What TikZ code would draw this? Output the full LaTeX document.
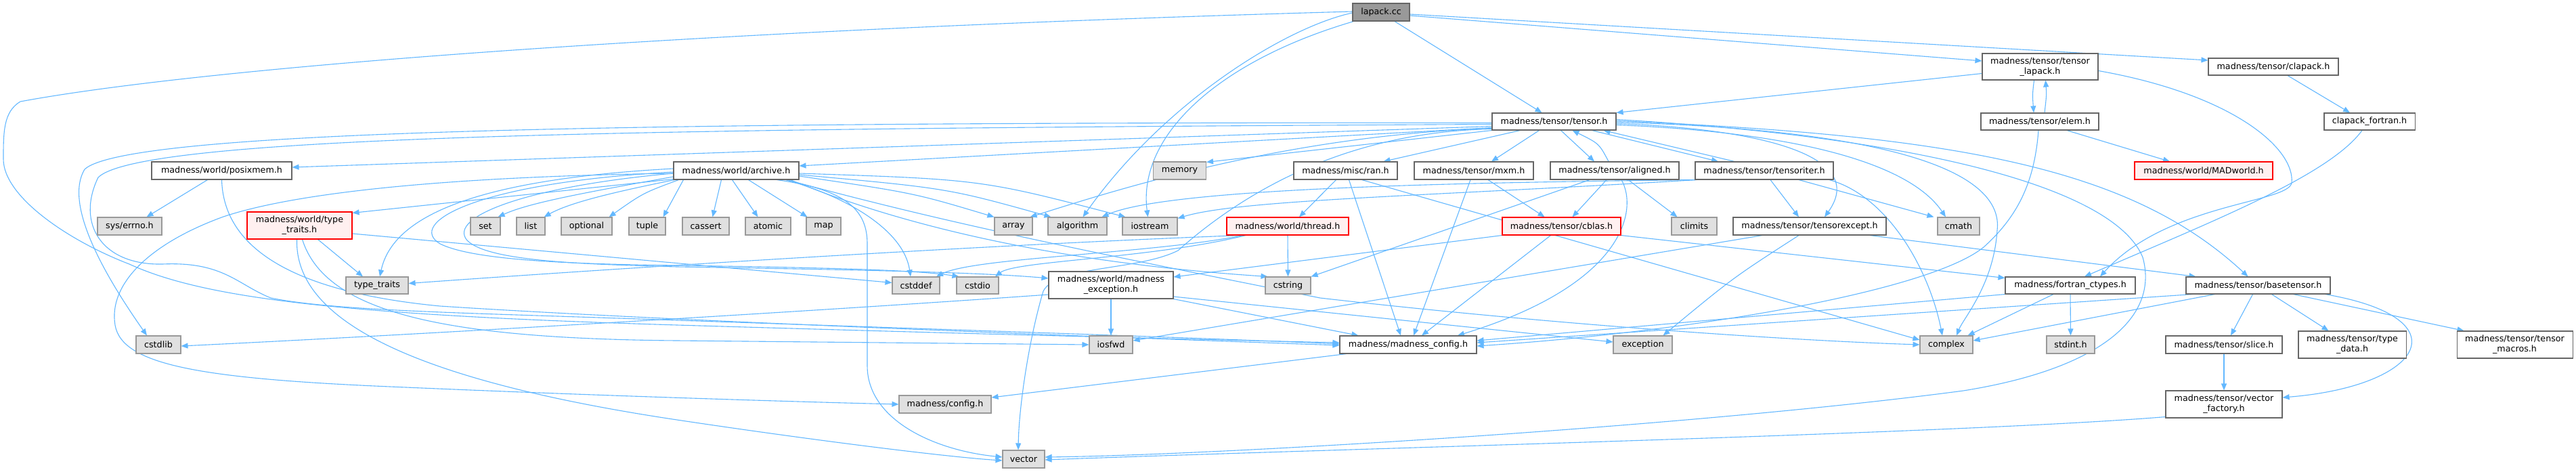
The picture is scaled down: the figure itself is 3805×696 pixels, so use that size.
\documentclass[tikz,border=0pt]{standalone}
\usepackage{fontspec}
\setmainfont{DejaVu Sans}
\usetikzlibrary{arrows.meta}
\pgfdeclarelayer{bg}
\pgfdeclarelayer{paper}
\pgfsetlayers{paper,bg,main}
\definecolor{edgec}{HTML}{63B8FF}
\definecolor{nborder}{HTML}{666666}
\definecolor{gfill}{HTML}{E0E0E0}
\definecolor{gborder}{HTML}{999999}
\definecolor{rfill}{HTML}{FFF0F0}
\definecolor{rborder}{HTML}{FF0000}
\definecolor{rootfill}{HTML}{999999}
\begin{document}
\begin{tikzpicture}[x=1pt,y=-1pt,
  every node/.style={font=\fontsize{12.7}{15}\selectfont, inner sep=0pt, align=center, minimum height=26pt},
  nb/.style={draw=nborder, fill=white, line width=1.1pt},
  gb/.style={draw=gborder, fill=gfill, line width=1.1pt},
  rb/.style={draw=rborder, fill=rfill, line width=1.1pt},
  rootb/.style={draw=nborder, fill=rootfill, line width=1.1pt},
  edg/.style={draw=edgec, line width=1.1pt, -{Triangle[length=10pt,width=8pt]}},
]
\begin{pgfonlayer}{paper}
\fill[white] (0,0) rectangle (3805,696);
\end{pgfonlayer}
\useasboundingbox (0,0) rectangle (3805,696);

% ---------- nodes ----------
\node[rootb, minimum width=84pt] (lapack) at (2040,18) {lapack.cc};
\node[nb, minimum width=171pt, minimum height=39pt] (tlap) at (3013.5,98.5) {madness/tensor/tensor\\\_lapack.h};
\node[nb, minimum width=192pt, minimum height=25pt] (clapack) at (3358,98.5) {madness/tensor/clapack.h};
\node[nb, minimum width=183pt, minimum height=25pt] (tensor) at (2295.5,179.5) {madness/tensor/tensor.h};
\node[nb, minimum width=174pt, minimum height=25pt] (elem) at (3013,179.5) {madness/tensor/elem.h};
\node[nb, minimum width=134pt, minimum height=25pt] (clapf) at (3500,179.5) {clapack\_fortran.h};
\node[nb, minimum width=207pt] (posix) at (327.5,252) {madness/world/posixmem.h};
\node[nb, minimum width=185pt] (archive) at (1087.5,252) {madness/world/archive.h};
\node[gb, minimum width=78pt] (memory) at (1742.5,252) {memory};
\node[nb, minimum width=153pt] (ran) at (1987.5,252) {madness/misc/ran.h};
\node[nb, minimum width=176pt] (mxm) at (2177,252) {madness/tensor/mxm.h};
\node[nb, minimum width=190pt] (aligned) at (2385,252) {madness/tensor/aligned.h};
\node[nb, minimum width=204pt] (titer) at (2606,252) {madness/tensor/tensoriter.h};
\node[rb, minimum width=204pt] (madworld) at (3255,252) {madness/world/MADworld.h};
\node[gb, minimum width=95pt] (errno) at (191.5,334) {sys/errno.h};
\node[rb, minimum width=155pt, minimum height=40pt] (wtt) at (442.5,333) {madness/world/type\\\_traits.h};
\node[gb, minimum width=44pt] (set) at (717,334) {set};
\node[gb, minimum width=42pt] (list) at (784,334) {list};
\node[gb, minimum width=75pt] (optional) at (866.5,334) {optional};
\node[gb, minimum width=54pt] (tuple) at (956,334) {tuple};
\node[gb, minimum width=69pt] (cassert) at (1042.5,334) {cassert};
\node[gb, minimum width=67pt] (atomic) at (1134.5,334) {atomic};
\node[gb, minimum width=51pt] (map) at (1216.5,334) {map};
\node[gb, minimum width=56pt] (array) at (1497,334) {array};
\node[gb, minimum width=87pt] (algorithm) at (1591.5,334) {algorithm};
\node[gb, minimum width=81pt] (iostream) at (1698.5,334) {iostream};
\node[rb, minimum width=180pt] (thread) at (1902,334) {madness/world/thread.h};
\node[rb, minimum width=175pt] (cblas) at (2306.5,334) {madness/tensor/cblas.h};
\node[gb, minimum width=67pt] (climits) at (2502.5,334) {climits};
\node[nb, minimum width=226pt] (texcept) at (2673,334) {madness/tensor/tensorexcept.h};
\node[gb, minimum width=62pt] (cmath) at (2893,334) {cmath};
\node[gb, minimum width=92pt, minimum height=25pt] (stdtt) at (557,421.5) {type\_traits};
\node[gb, minimum width=70pt, minimum height=25pt] (cstddef) at (1353,421.5) {cstddef};
\node[gb, minimum width=62pt, minimum height=25pt] (cstdio) at (1444,421.5) {cstdio};
\node[nb, minimum width=184pt, minimum height=40pt] (mexc) at (1641,421) {madness/world/madness\\\_exception.h};
\node[gb, minimum width=67pt, minimum height=25pt] (cstring) at (1902.5,421.5) {cstring};
\node[nb, minimum width=192pt, minimum height=25pt] (fortran) at (3058,421.5) {madness/fortran\_ctypes.h};
\node[nb, minimum width=213pt, minimum height=25pt] (basetensor) at (3335.5,421.5) {madness/tensor/basetensor.h};
\node[gb, minimum width=66pt] (cstdlib) at (234,509) {cstdlib};
\node[gb, minimum width=64pt] (iosfwd) at (1641,509) {iosfwd};
\node[nb, minimum width=202pt] (mconfig) at (2080,509) {madness/madness\_config.h};
\node[gb, minimum width=87pt] (exception) at (2426.5,509) {exception};
\node[gb, minimum width=78pt] (complex) at (2875,509) {complex};
\node[gb, minimum width=71pt] (stdint) at (3058.5,509) {stdint.h};
\node[nb, minimum width=172pt] (slice) at (3285,509) {madness/tensor/slice.h};
\node[nb, minimum width=159pt, minimum height=40pt] (typedata) at (3474.5,509) {madness/tensor/type\\\_data.h};
\node[nb, minimum width=171pt, minimum height=40pt] (macros) at (3714.5,509) {madness/tensor/tensor\\\_macros.h};
\node[gb, minimum width=136pt] (config) at (1396,597) {madness/config.h};
\node[nb, minimum width=172pt, minimum height=40pt] (vfactory) at (3285,597) {madness/tensor/vector\\\_factory.h};
\node[gb, minimum width=62pt] (vector) at (1512,678) {vector};

\begin{pgfonlayer}{bg}
% lapack.cc
\draw[edg] ([xshift=20pt]lapack.south) -- ([xshift=-18pt]tensor.north);
\draw[edg] ([yshift=-5pt]lapack.east) -- ([yshift=8.5pt]tlap.west);
\draw[edg] ([yshift=-3pt]lapack.east) -- ([yshift=9.5pt]clapack.west);
\draw[edg] ([yshift=-1pt]lapack.west) .. controls (1900,40) and (1720,150) .. ([xshift=8pt]algorithm.north);
\draw[edg] ([xshift=2pt]lapack.south west) .. controls (1800,90) and (1680,200) .. ([xshift=-3pt]iostream.north);
\draw[edg] ([yshift=1pt]lapack.west) .. controls (1000,45) and (300,100) .. (30,150) .. controls (5,165) and (5,195) .. (5,235) .. controls (5,290) and (100,355) .. (191,390) .. controls (300,440) and (500,465) .. (1000,480) .. controls (1500,495) and (1800,502) .. ([yshift=3pt]mconfig.west);
% tensor.h
\draw[edg] ([yshift=-7pt]tensor.west) -- ([yshift=5pt]posix.east);
\draw[edg] ([yshift=-9pt]tensor.west) -- ([yshift=7pt]archive.east);
\draw[edg] (tensor.south west) -- ([yshift=-1pt]memory.north east);
\draw[edg] ([yshift=-10pt]tensor.west) .. controls (1900,200) and (1650,280) .. ([xshift=-4pt]array.north east);
\draw[edg] ([yshift=-11pt]tensor.west) .. controls (1980,195) and (1830,290) .. (1740,370) .. controls (1680,400) and (1560,392) .. (1541,430) .. controls (1520,500) and (1505,600) .. ([xshift=-8pt]vector.north);
\draw[edg] ([yshift=-2pt]tensor.west) .. controls (1000,180) and (190,190) .. (125,250) .. controls (95,300) and (150,400) .. ([xshift=-17pt]cstdlib.north);
\draw[edg] ([yshift=-4pt]tensor.west) .. controls (1000,190) and (210,198) .. (145,262) .. controls (112,330) and (150,392) .. (240,390) .. controls (330,386) and (350,420) .. (400,440) .. controls (500,460) and (700,462) .. (1000,473) .. controls (1500,490) and (1800,500) .. ([yshift=1pt]mconfig.west);
\draw[edg] ([xshift=-50pt]tensor.south) -- ([xshift=56pt]ran.north);
\draw[edg] ([xshift=-22pt]tensor.south) -- ([xshift=26pt]mxm.north);
\draw[edg] ([xshift=10pt]tensor.south) -- ([xshift=-30pt]aligned.north);
\draw[edg] ([xshift=-9pt]aligned.north) .. controls (2362,212) .. ([xshift=27pt]tensor.south);
\draw[edg] ([xshift=56pt]tensor.south) -- ([xshift=-68pt]titer.north);
\draw[edg] ([xshift=-44pt]titer.north) -- ([xshift=73pt]tensor.south);
\draw[edg] ([yshift=-3pt]tensor.east) .. controls (2600,190) and (2760,230) .. ([xshift=22pt]texcept.north);
\draw[edg] ([yshift=-5pt]tensor.east) .. controls (2650,195) and (2820,240) .. ([xshift=-19pt]cmath.north);
\draw[edg] ([yshift=-1pt]tensor.east) .. controls (2800,192) and (2960,255) .. (2950,340) .. controls (2945,420) and (2900,470) .. ([xshift=15pt]complex.north);
\draw[edg] ([yshift=1pt]tensor.east) .. controls (2900,200) and (3150,250) .. ([xshift=-15pt]basetensor.north);
\draw[edg] ([yshift=3pt]tensor.east) .. controls (2800,200) and (3120,270) .. (3165,380) .. controls (3190,470) and (3100,545) .. (2900,577) .. controls (2500,630) and (1800,672) .. ([yshift=3pt]vector.east);
% tensor_lapack / elem / clapack
\draw[edg] ([yshift=-10pt]tlap.west) -- (tensor.north east);
\draw[edg] ([xshift=-9pt]tlap.south) .. controls (3002,140) .. ([xshift=-9pt]elem.north);
\draw[edg] ([xshift=7pt]elem.north) .. controls (3023,140) .. ([xshift=8pt]tlap.south);
\draw[edg] ([yshift=-6pt]tlap.east) .. controls (3300,140) and (3390,220) .. (3385,270) .. controls (3380,300) and (3200,300) .. ([xshift=44pt]fortran.north);
\draw[edg] ([xshift=40pt]elem.south) -- ([xshift=-50pt]madworld.north);
\draw[edg] ([xshift=-2pt]elem.south) .. controls (3005,270) and (2980,320) .. (2930,365) .. controls (2850,430) and (2500,490) .. ([yshift=-2pt]mconfig.east);
\draw[edg] ([xshift=21pt]clapack.south) -- ([xshift=-29pt]clapf.north);
\draw[edg] ([xshift=-11pt]clapf.south) .. controls (3440,260) and (3260,330) .. ([xshift=21pt]fortran.north);
% fortran_ctypes
\draw[edg] ([xshift=-25pt]fortran.south) -- ([xshift=-8pt]complex.north east);
\draw[edg] (fortran.south) -- (stdint.north);
\draw[edg] (fortran.south west) -- ([yshift=6pt]mconfig.east);
% basetensor
\draw[edg] ([xshift=10pt]basetensor.south west) -- ([yshift=3pt]mconfig.east);
\draw[edg] ([xshift=43pt]basetensor.south west) -- ([yshift=6pt]complex.east);
\draw[edg] ([xshift=-8pt]basetensor.south) -- ([xshift=10pt]slice.north);
\draw[edg] ([xshift=20pt]basetensor.south) -- ([xshift=-35pt]typedata.north);
\draw[edg] ([xshift=52pt]basetensor.south) -- ([xshift=-75pt]macros.north);
\draw[edg] ([xshift=-8pt]basetensor.south east) .. controls (3640,470) and (3580,570) .. ([yshift=10pt]vfactory.east);
\draw[edg] (slice.south) -- (vfactory.north);
\draw[edg] ([yshift=2pt]vfactory.south west) .. controls (2900,640) and (2000,662) .. ([yshift=-1pt]vector.east);
% tensorexcept
\draw[edg] ([xshift=89pt]texcept.south) -- ([xshift=15pt]basetensor.north west);
\draw[edg] ([xshift=-16pt]texcept.south) .. controls (2560,410) .. ([xshift=30pt]exception.north);
\draw[edg] ([xshift=-70pt]texcept.south) -- ([yshift=6pt]iosfwd.east);
% tensoriter
\draw[edg] (titer.south west) .. controls (2100,270) and (1720,280) .. ([xshift=36pt]algorithm.north);
\draw[edg] ([xshift=3pt]titer.south west) .. controls (2100,290) and (1830,295) .. ([yshift=-2pt]iostream.north east);
\draw[edg] ([xshift=9pt]titer.south) -- ([xshift=-16pt]texcept.north);
\draw[edg] ([xshift=51pt]titer.south) -- ([xshift=-5pt]cmath.north west);
\draw[edg] ([xshift=96pt]titer.south) .. controls (2790,290) and (2850,400) .. ([xshift=-6pt]complex.north);
% aligned
\draw[edg] ([xshift=-12pt]aligned.south) -- ([xshift=16pt]cblas.north);
\draw[edg] ([xshift=20pt]aligned.south) -- ([xshift=-25pt]climits.north);
\draw[edg] ([xshift=10pt]aligned.south) .. controls (2420,310) and (2400,420) .. ([xshift=73pt]mconfig.north);
\draw[edg] ([xshift=-37pt]aligned.south) -- (cstring.north east);
% cblas
\draw[edg] ([xshift=-16pt]cblas.south) -- ([xshift=20pt]mconfig.north);
\draw[edg] (cblas.south west) -- ([yshift=12pt]mexc.east);
\draw[edg] (cblas.south east) -- ([yshift=11pt]fortran.west);
% mxm
\draw[edg] ([xshift=21pt]mxm.south) -- ([xshift=-25pt]cblas.north);
\draw[edg] ([xshift=-5pt]mxm.south) -- ([xshift=8pt]mconfig.north);
% ran
\draw[edg] ([xshift=-14pt]ran.south) -- ([xshift=17pt]thread.north);
\draw[edg] ([xshift=5pt]ran.south) -- ([xshift=-11pt]mconfig.north);
\draw[edg] ([xshift=24pt]ran.south) -- ([yshift=7pt]complex.west);
% thread
\draw[edg] (thread.south) -- (cstring.north);
\draw[edg] ([xshift=-66pt]thread.south) .. controls (1700,375) and (1440,380) .. ([xshift=30pt]cstddef.north);
\draw[edg] ([xshift=-62pt]thread.south) .. controls (1700,382) and (1500,385) .. ([xshift=26pt]cstdio.north);
\draw[edg] ([xshift=-70pt]thread.south) .. controls (1500,360) and (1000,390) .. ([yshift=3pt]stdtt.east);
% madness_exception
\draw[edg] (mexc.south) -- (iosfwd.north);
\draw[edg] ([yshift=-17pt]mexc.east) -- ([yshift=4pt]exception.west);
\draw[edg] (mexc.south east) -- ([xshift=28pt]mconfig.north west);
\draw[edg] ([yshift=-14pt]mexc.west) .. controls (1200,460) and (600,495) .. ([yshift=-2pt]cstdlib.east);
% world/type_traits
\draw[edg] ([xshift=27pt]wtt.south) -- ([xshift=-21pt]stdtt.north);
\draw[edg] ([yshift=-12pt]wtt.east) -- ([yshift=4pt]cstddef.west);
\draw[edg] ([xshift=4pt]wtt.south) .. controls (480,460) and (650,500) .. (1000,503) -- (iosfwd.west);
\draw[edg] ([xshift=-4pt]wtt.south) .. controls (435,470) and (600,560) .. (1000,620) .. controls (1200,650) and (1400,675) .. ([yshift=-2pt]vector.west);
% posixmem
\draw[edg] ([xshift=-21pt]posix.south) -- ([xshift=25pt]errno.north);
\draw[edg] (posix.south) .. controls (330,360) and (420,430) .. (650,452) .. controls (1000,475) and (1700,500) .. ([yshift=-1pt]mconfig.west);
% archive
\draw[edg] ([yshift=1pt]archive.south west) -- ([yshift=-2pt]wtt.north east);
\draw[edg] ([yshift=-9pt]archive.west) .. controls (860,285) and (780,300) .. ([xshift=-4pt]set.north east);
\draw[edg] ([xshift=2pt]archive.south west) .. controls (900,285) and (840,300) .. ([xshift=-2pt]list.north east);
\draw[edg] ([xshift=8pt]archive.south west) .. controls (950,285) .. ([xshift=-5pt]optional.north east);
\draw[edg] ([xshift=15pt]archive.south west) -- ([xshift=-4pt]tuple.north east);
\draw[edg] ([xshift=-22pt]archive.south) -- ([xshift=10pt]cassert.north);
\draw[edg] ([xshift=-6pt]archive.south) -- ([xshift=-15pt]atomic.north);
\draw[edg] ([xshift=18pt]archive.south) -- ([xshift=-24pt]map.north);
\draw[edg] ([yshift=-8pt]archive.east) .. controls (1350,285) .. (array.north west);
\draw[edg] ([yshift=-6pt]archive.east) .. controls (1400,278) .. ([xshift=5pt]algorithm.north west);
\draw[edg] ([yshift=-4pt]archive.east) .. controls (1450,265) .. ([xshift=5pt]iostream.north west);
\draw[edg] ([yshift=3pt]archive.west) .. controls (700,265) and (580,320) .. ([xshift=4pt]stdtt.north);
\draw[edg] ([xshift=73pt]archive.south) .. controls (1250,290) and (1335,340) .. ([xshift=-8pt]cstddef.north);
\draw[edg] ([yshift=-2pt]archive.west) .. controls (700,270) and (600,330) .. (650,360) .. controls (700,385) and (850,390) .. (1000,392) .. controls (1200,395) and (1350,398) .. ([xshift=4pt]cstdio.north west);
\draw[edg] ([yshift=-4pt]archive.west) .. controls (780,275) and (660,320) .. (690,355) .. controls (720,385) and (850,390) .. (1000,394) .. controls (1250,398) and (1450,402) .. ([yshift=10pt]mexc.west);
\draw[edg] ([xshift=80pt]archive.south) .. controls (1300,320) and (1520,385) .. ([xshift=-30pt]cstring.north);
\draw[edg] ([xshift=75pt]archive.south) .. controls (1400,330) and (1600,370) .. (1950,440) .. controls (2300,480) and (2650,503) .. (complex.west);
\draw[edg] ([yshift=-4pt]archive.west) .. controls (700,260) and (450,280) .. (330,320) .. controls (220,360) and (160,420) .. (170,480) .. controls (180,540) and (300,560) .. (600,572) .. controls (900,585) and (1200,594) .. (config.west);
\draw[edg] ([xshift=60pt]archive.south) .. controls (1250,280) and (1281,310) .. (1281,360) -- (1281,540) .. controls (1281,620) and (1380,665) .. ([yshift=3pt]vector.west);
% madness_config
\draw[edg] ([xshift=10pt]mconfig.south west) -- ([yshift=10pt]config.east);
\end{pgfonlayer}
\end{tikzpicture}
\end{document}
